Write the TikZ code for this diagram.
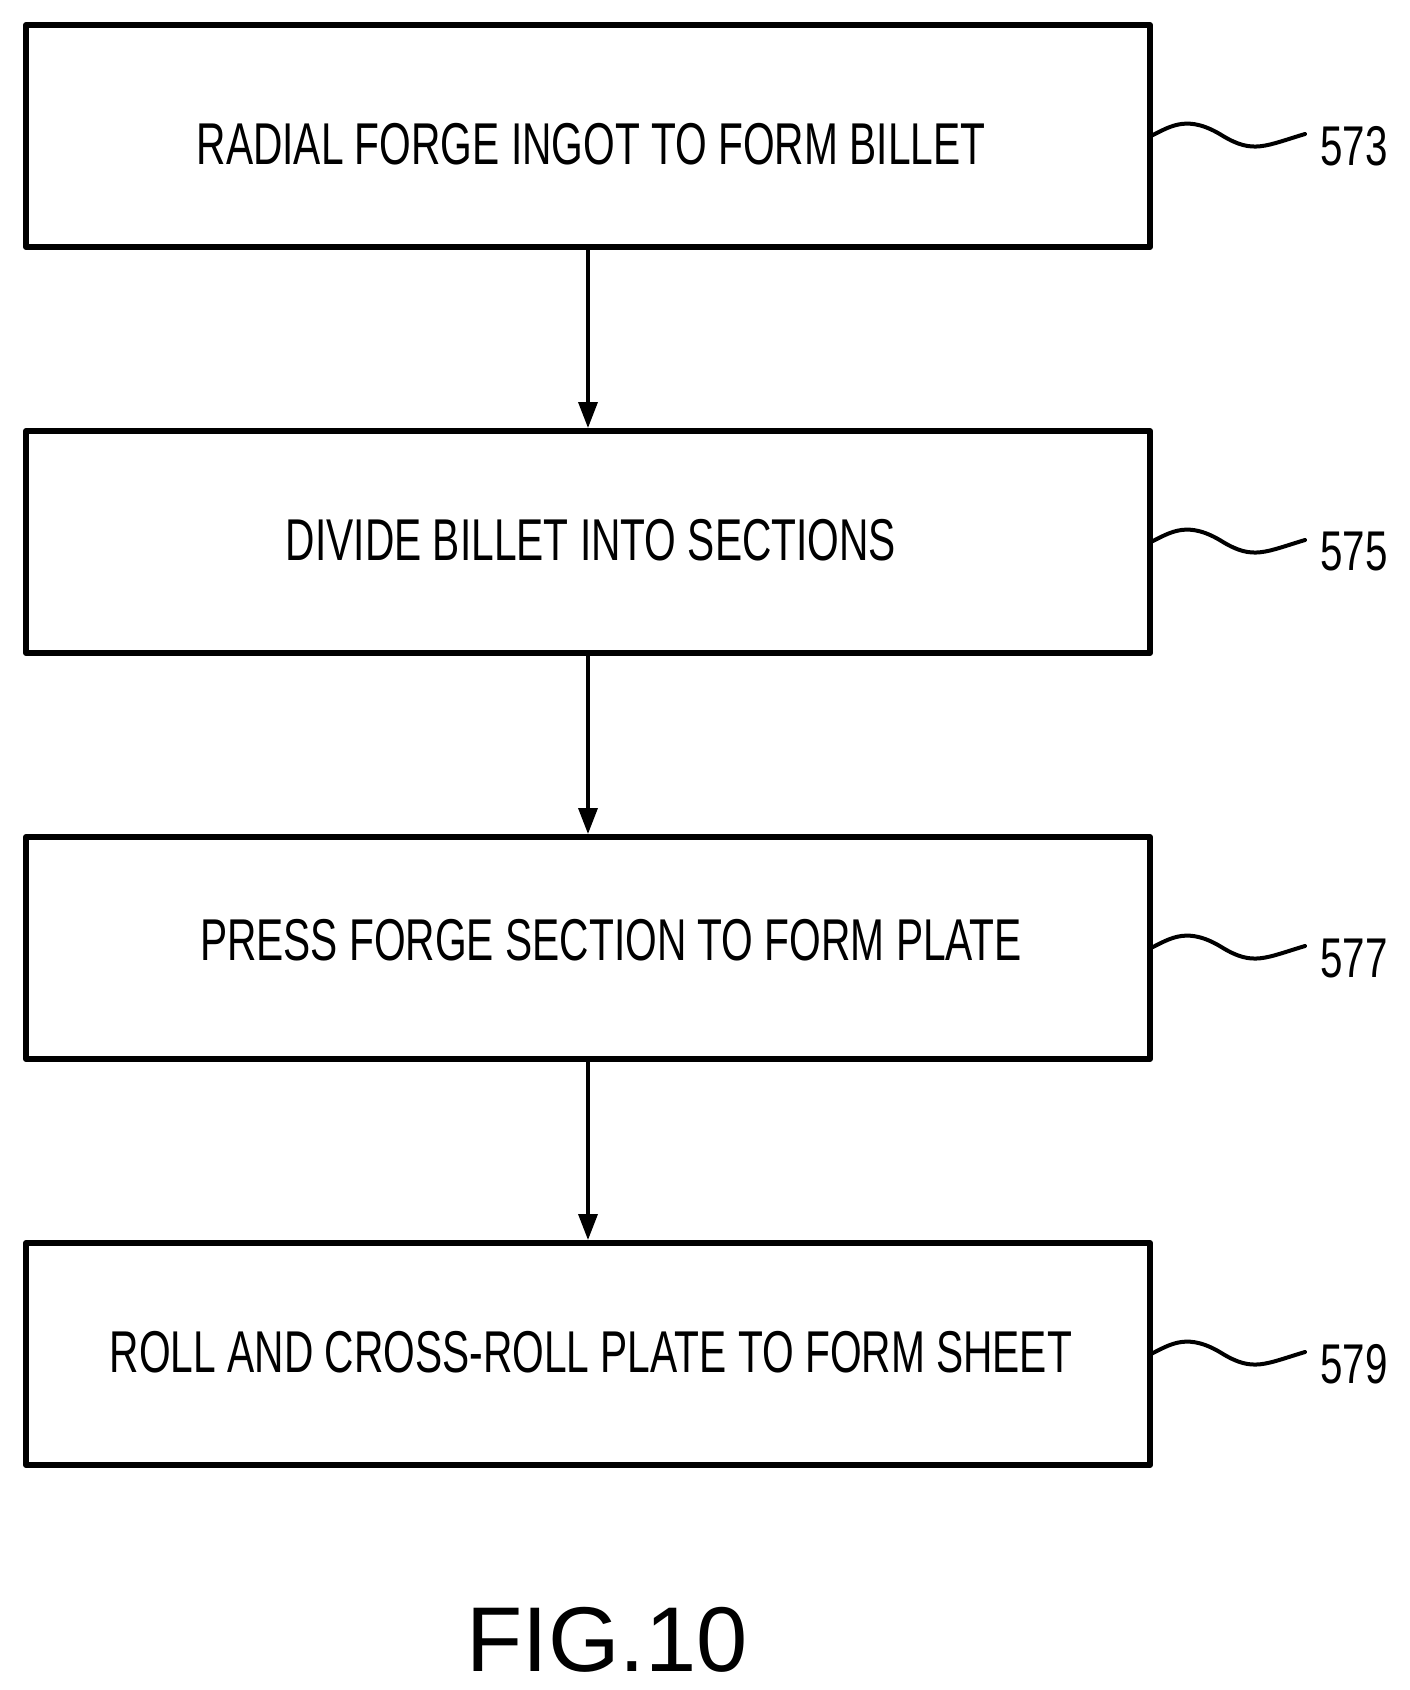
\documentclass[tikz,border=0pt]{standalone}
\usepackage{fontspec}
\setmainfont{Liberation Sans}
\usetikzlibrary{arrows.meta}
\begin{document}
\begin{tikzpicture}[x=1pt,y=-1pt,
  box/.style={draw,line width=6pt,minimum width=1124pt,minimum height=222pt,inner sep=0,line join=round},
  lbl/.style={font=\fontsize{59}{60}\selectfont},
  arr/.style={line width=3.5pt,-{Triangle[length=26pt,width=19pt]}},
  sq/.style={line width=4pt,line cap=round},
  num/.style={font=\fontsize{56}{58}\selectfont,anchor=west}]
\useasboundingbox (0,0) rectangle (1410,1690);
\node[box] (b1) at (588,136) {};
\node[box] (b2) at (588,542) {};
\node[box] (b3) at (588,948) {};
\node[box] (b4) at (588,1354) {};
\node[lbl] (t1) at (591,144) {\scalebox{0.69}[1]{RADIAL FORGE INGOT TO FORM BILLET}};
\node[lbl] (t2) at (591,540) {\scalebox{0.69}[1]{DIVIDE BILLET INTO SECTIONS}};
\node[lbl] (t3) at (611,940) {\scalebox{0.69}[1]{PRESS FORGE SECTION TO FORM PLATE}};
\node[lbl] (t4) at (591,1352) {\scalebox{0.69}[1]{ROLL AND CROSS-ROLL PLATE TO FORM SHEET}};
\foreach \a/\b in {b1/b2,b2/b3,b3/b4} \draw[arr] (\a.south) -- (\b.north);
\foreach \b/\n in {b1/573,b2/575,b3/577,b4/579}{
  \coordinate (s\n) at ([xshift=-2pt]\b.east);
  \draw[sq] (s\n) .. controls +(20,-10) and +(-35,-22) .. ++(72,0)
     .. controls +(30,18) and +(-40,12) .. ++(82,-2) coordinate (e\n);
  \node[num] (n\n) at ([xshift=12pt,yshift=-12pt]e\n) {\scalebox{0.72}[1]{\n}};
}
\node[font=\fontsize{92}{92}\selectfont] (fig) at (607,1640) {FIG.10};
\end{tikzpicture}
\end{document}
